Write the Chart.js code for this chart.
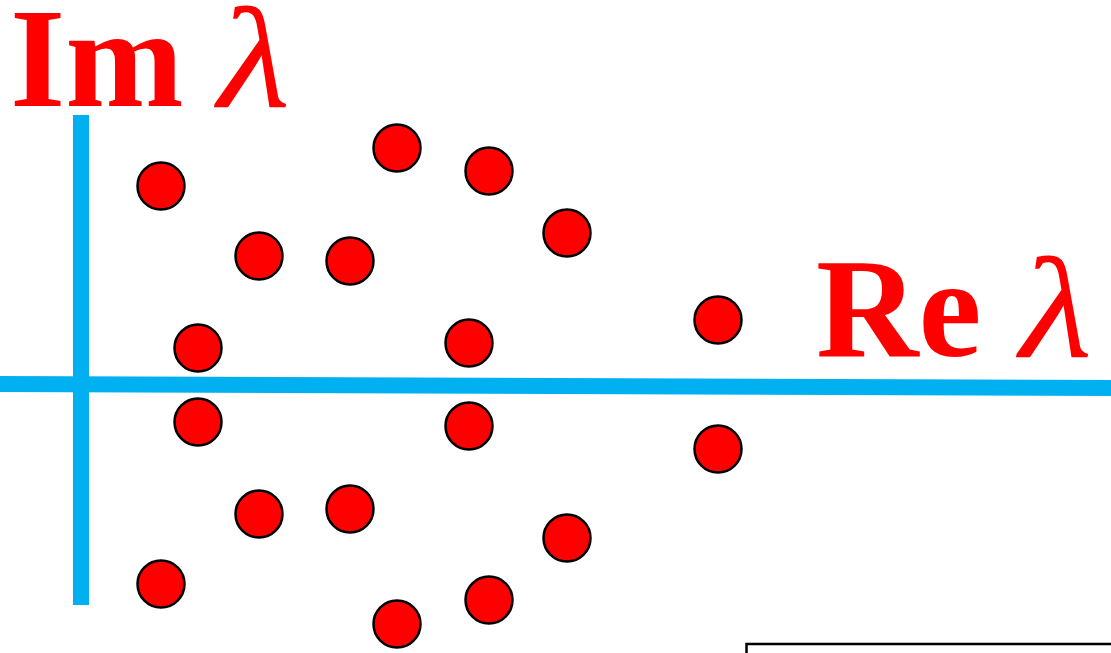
<!DOCTYPE html>
<html>
<head>
<meta charset="utf-8">
<script src="https://cdn.jsdelivr.net/npm/chart.js@4.4.1/dist/chart.umd.min.js"></script>
<style>
  html, body { margin: 0; padding: 0; background: #fff; overflow: hidden; }
  #wrap { width: 1111px; height: 653px; }
</style>
</head>
<body>
<div id="wrap"><canvas id="plane"></canvas></div>
<script>
// eigenvalues in the complex plane (Re, Im)
const reValues = [0.80, 3.16, 4.08, 4.86, 1.78, 2.69, 1.17, 3.88, 6.37,
                  1.17, 3.88, 6.37, 1.78, 2.69, 4.86, 0.80, 3.16, 4.08];
const imValues = [1.99, 2.37, 2.14, 1.52, 1.29, 1.24, 0.37, 0.42, 0.65,
                  -0.37, -0.41, -0.64, -1.29, -1.24, -1.53, -1.99, -2.39, -2.15];

// axis lines
const reAxisX = [-0.81, 10.30];
const reAxisY = [0.01, -0.03];
const imAxisX = [0, 0];
const imAxisY = [2.70, -2.20];

const axisBlue = '#00B0F0';
const markRed = '#FF0000';

const points = reValues.map((re, i) => ({ x: re, y: imValues[i] }));

// italic lambda, stretched a little wider than the serif face draws it
function drawLambda(ctx, x, y) {
    ctx.save();
    ctx.translate(x, y);
    ctx.scale(1.15, 1);
    ctx.font = 'italic 145px "Liberation Serif"';
    ctx.fillText('λ', 0, 0);
    ctx.restore();
}

const labels = {
    id: 'planeLabels',
    afterDraw(chart) {
        const ctx = chart.ctx;
        ctx.save();
        ctx.fillStyle = markRed;
        ctx.textBaseline = 'alphabetic';
        ctx.textAlign = 'left';
        ctx.font = 'bold 142px "Liberation Serif"';
        ctx.fillText('Im', 10, 106);
        ctx.fillText('Re', 816, 356);
        drawLambda(ctx, 218, 107);
        drawLambda(ctx, 1020, 357);

        // frame peeking in at the lower right
        ctx.strokeStyle = '#000';
        ctx.lineWidth = 2.5;
        ctx.beginPath();
        ctx.moveTo(746.5, 660);
        ctx.lineTo(746.5, 644);
        ctx.lineTo(1120, 644);
        ctx.stroke();
        ctx.restore();
    }
};

new Chart(document.getElementById('plane'), {
    type: 'scatter',
    data: {
        datasets: [
            {
                data: points,
                backgroundColor: markRed,
                borderColor: '#000',
                borderWidth: 2.5,
                pointRadius: 23.5,
                pointHoverRadius: 23.5,
                clip: false,
                order: 0
            },
            {
                data: reAxisX.map((x, i) => ({ x, y: reAxisY[i] })),
                showLine: true,
                borderColor: axisBlue,
                borderWidth: 16,
                borderCapStyle: 'butt',
                pointRadius: 0,
                clip: false,
                order: 1
            },
            {
                data: imAxisX.map((x, i) => ({ x, y: imAxisY[i] })),
                showLine: true,
                borderColor: axisBlue,
                borderWidth: 16,
                borderCapStyle: 'butt',
                pointRadius: 0,
                clip: false,
                order: 1
            }
        ]
    },
    options: {
        responsive: true,
        maintainAspectRatio: false,
        animation: false,
        layout: { padding: 0, autoPadding: false },
        plugins: { legend: { display: false }, tooltip: { enabled: false } },
        scales: {
            x: { type: 'linear', min: -0.81, max: 10.30, display: false },
            y: { type: 'linear', min: -2.68, max: 3.85, display: false }
        }
    },
    plugins: [labels]
});
</script>
</body>
</html>
